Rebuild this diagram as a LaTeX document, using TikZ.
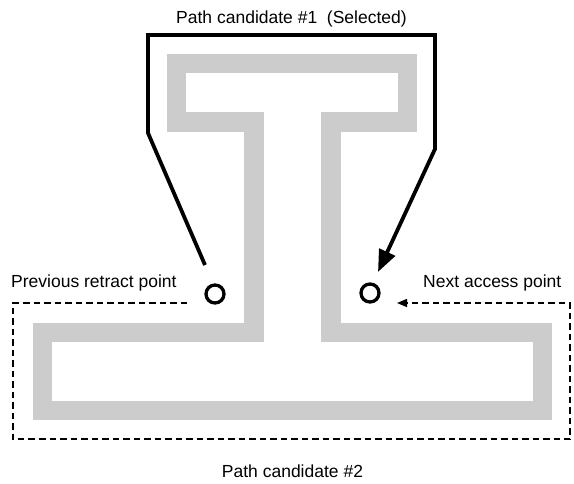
\documentclass[tikz,border=0pt]{standalone}
\usepackage{fontspec}
\setmainfont{Liberation Sans}
\usetikzlibrary{arrows.meta}
\definecolor{bandgray}{HTML}{CCCCCC}
\tikzset{
  band/.style={draw=bandgray,line width=19.5pt,line join=miter},
  selpath/.style={draw=black,line width=3.8pt,line join=miter},
  altpath/.style={draw=black,line width=1.5pt,dash pattern=on 6.5pt off 4pt},
  pt/.style={circle,draw=black,line width=3.3pt,minimum size=18pt,inner sep=0pt},
  lbl/.style={inner sep=0pt,font=\fontsize{17.5}{20}\selectfont}
}
\begin{document}
\begin{tikzpicture}[x=1pt,y=-1pt]
\useasboundingbox (0,0) rectangle (574,483);
% tool path band
\draw[band] (176.5,63.5) -- (407.5,63.5) -- (407.5,122) -- (331,122) -- (331,332.5)
  -- (542.5,332.5) -- (542.5,410.5) -- (42.5,410.5) -- (42.5,332.5) -- (254,332.5)
  -- (254,122) -- (176.5,122) -- cycle;
% points
\node[pt] (prev) at (215,294) {};
\node[pt] (next) at (370,293) {};
% labels
\node[lbl,anchor=base] (t1) at (291.5,23) {Path candidate \#1\ \ (Selected)};
\node[lbl,anchor=base west] (tprev) at (11,287) {Previous retract point};
\node[lbl,anchor=base west] (tnext) at (423,287) {Next access point};
\node[lbl,anchor=base] (t2) at (292.5,477) {Path candidate \#2};
% path candidate 1
\coordinate (s1) at (205,265);
\coordinate (e1) at (378,272);
\draw[selpath,-{Triangle[length=22pt,width=17pt]}] (s1) -- (148,133) -- (148,35) -- (435,35) -- (435,149) -- (e1);
% path candidate 2
\coordinate (s2) at (187,303);
\coordinate (e2) at (397,303);
\draw[altpath,-{Triangle[length=10pt,width=8pt]}] (s2) -- (13,303) -- (13,439) -- (570,439) -- (570,303) -- (e2);
\end{tikzpicture}
\end{document}
